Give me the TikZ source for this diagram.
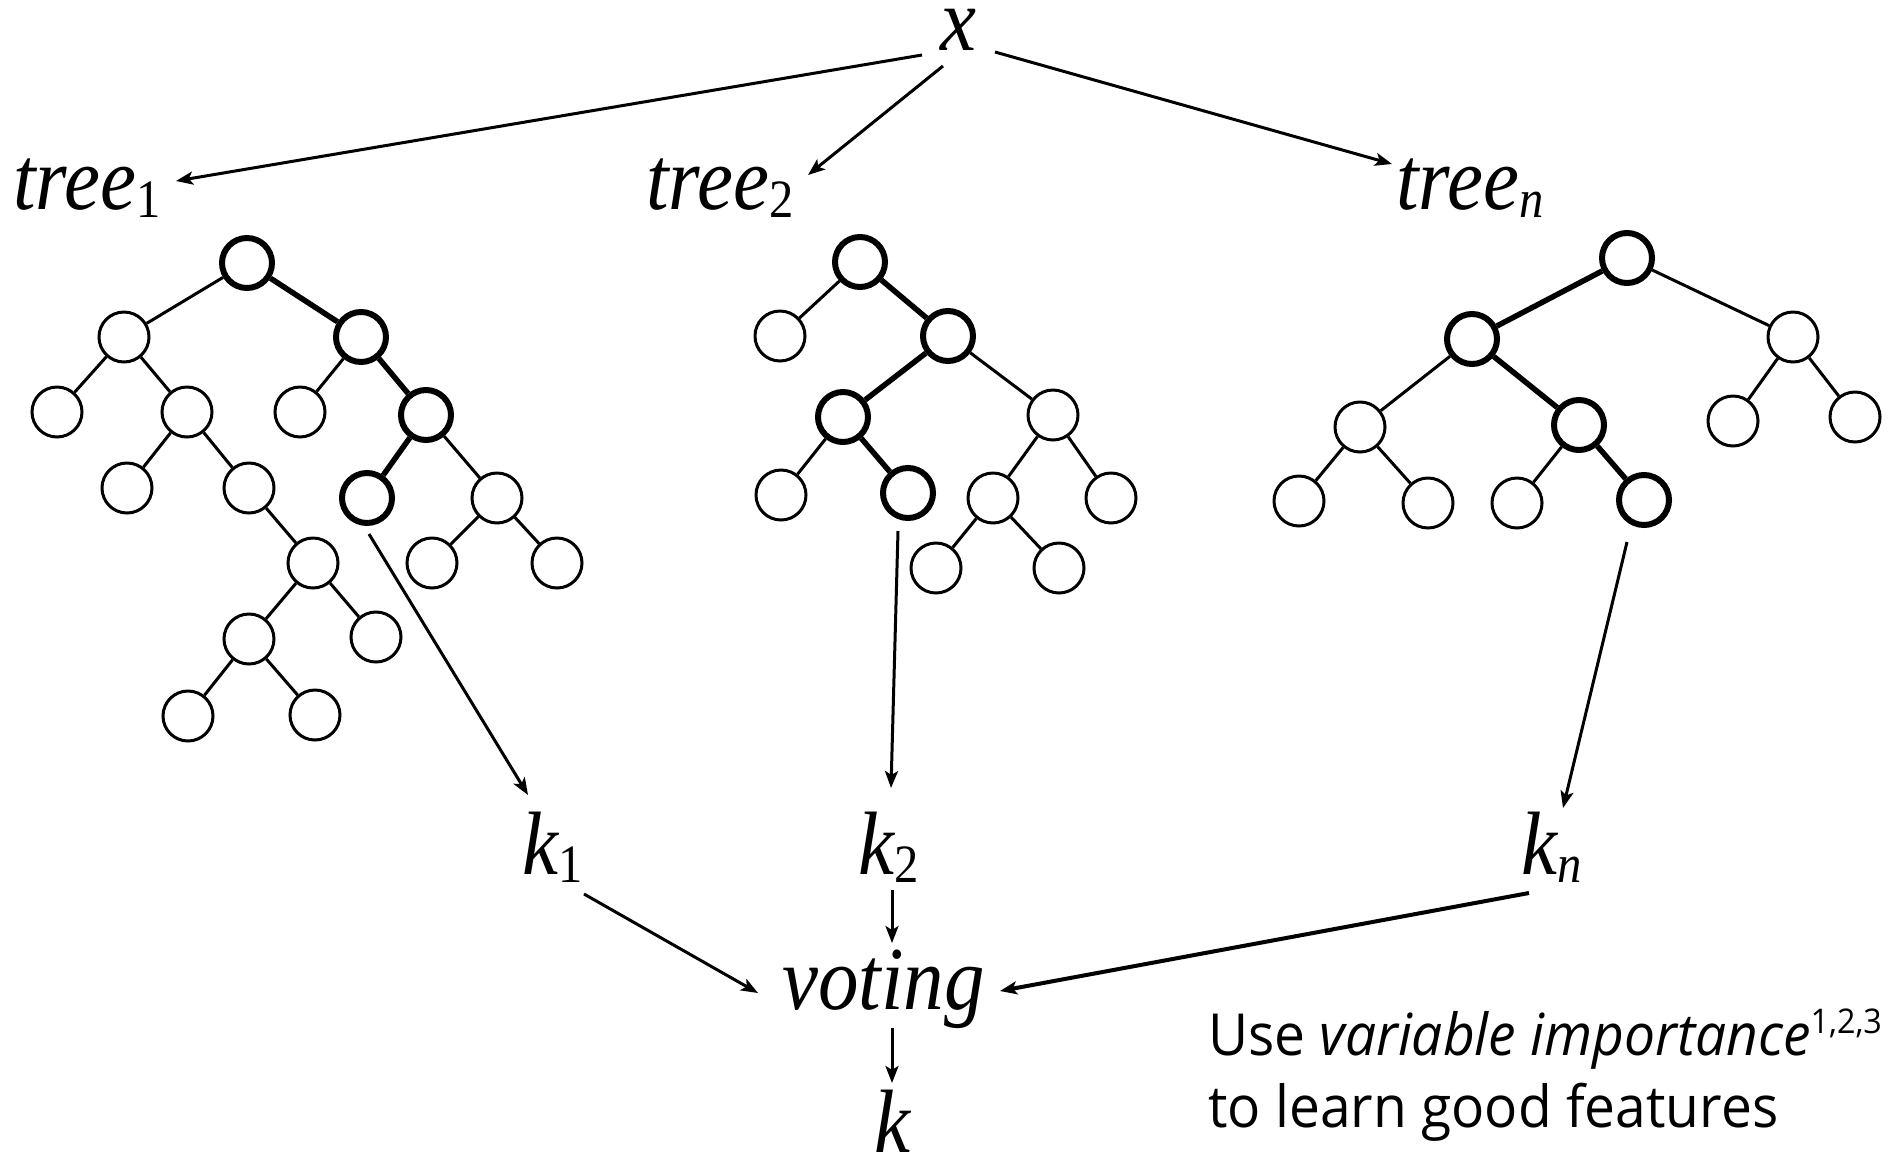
\documentclass[tikz,border=0pt]{standalone}
\usepackage{fontspec}
\usetikzlibrary{arrows.meta}
\newfontfamily\labfont[FakeStretch=0.9]{Liberation Serif}
\newfontfamily\notefont[FakeStretch=0.95]{Open Sans}
\newcommand{\idx}[1]{\raisebox{-8pt}{\fontsize{54}{54}\selectfont #1}}
\tikzset{
  leaf/.style={circle,draw=black,line width=3pt,minimum size=50pt,inner sep=0pt},
  leafhot/.style={leaf,line width=6pt},
  edge/.style={line width=3pt},
  edgehot/.style={line width=5.5pt},
  flow/.style={-{Stealth[length=17pt,width=13pt,inset=4pt]},line width=3pt},
  flowbold/.style={flow,line width=4pt},
  lab/.style={inner sep=0pt,anchor=base west,font=\labfont\itshape\fontsize{90}{90}\selectfont},
  note/.style={inner sep=0pt,anchor=base west,font=\notefont\fontsize{58}{70}\selectfont},
}

\begin{document}
\begin{tikzpicture}[x=1pt,y=-1pt]
    \useasboundingbox (0,0) rectangle (1898,1160);
    % labels: input, trees, per-tree classes, vote
    \node[lab,anchor=base] (x) at (958,50) {x};
    \node[lab] (tree1) at (13,209) {tree\idx{\upshape 1}};
    \node[lab] (tree2) at (646,209) {tree\idx{\upshape 2}};
    \node[lab] (treen) at (1396,209) {tree\idx{n}};
    \node[lab] (k1) at (522,874) {k\idx{\upshape 1}};
    \node[lab] (k2) at (858,874) {k\idx{\upshape 2}};
    \node[lab] (kn) at (1521,874) {k\idx{n}};
    \node[lab] (voting) at (782,1009) {voting};
    \node[lab] (k) at (874,1152) {k};

    % tree 1
    \node[leafhot] (t1) at (247,263) {};
    \node[leaf] (t1l) at (124,337) {};
    \node[leafhot] (t1r) at (361,337) {};
    \node[leaf] (t1ll) at (57,412) {};
    \node[leaf] (t1lr) at (187,412) {};
    \node[leaf] (t1rl) at (300,412) {};
    \node[leafhot] (t1rr) at (426,415) {};
    \node[leaf] (t1lrl) at (127,488) {};
    \node[leaf] (t1lrr) at (249,488) {};
    \node[leafhot] (t1rrl) at (367,498) {};
    \node[leaf] (t1rrr) at (497,498) {};
    \node[leaf] (t1lrrr) at (313,563) {};
    \node[leaf] (t1rrrl) at (432,563) {};
    \node[leaf] (t1rrrr) at (557,563) {};
    \node[leaf] (t1lrrrl) at (249,639) {};
    \node[leaf] (t1lrrrr) at (376,637) {};
    \node[leaf] (t1lrrrll) at (188,716) {};
    \node[leaf] (t1lrrrlr) at (315,715) {};
    \draw[edge] (t1)--(t1l) (t1l)--(t1ll) (t1l)--(t1lr) (t1r)--(t1rl)
      (t1lr)--(t1lrl) (t1lr)--(t1lrr) (t1rr)--(t1rrr) (t1lrr)--(t1lrrr)
      (t1rrr)--(t1rrrl) (t1rrr)--(t1rrrr) (t1lrrr)--(t1lrrrl) (t1lrrr)--(t1lrrrr)
      (t1lrrrl)--(t1lrrrll) (t1lrrrl)--(t1lrrrlr);
    \draw[edgehot] (t1)--(t1r) (t1r)--(t1rr) (t1rr)--(t1rrl);

    % tree 2
    \node[leafhot] (t2) at (860,262) {};
    \node[leaf] (t2l) at (780,336) {};
    \node[leafhot] (t2r) at (948,336) {};
    \node[leafhot] (t2rl) at (843,417) {};
    \node[leaf] (t2rr) at (1053,415) {};
    \node[leaf] (t2rll) at (781,495) {};
    \node[leafhot] (t2rlr) at (908,493) {};
    \node[leaf] (t2rrl) at (993,498) {};
    \node[leaf] (t2rrr) at (1111,498) {};
    \node[leaf] (t2rrll) at (936,568) {};
    \node[leaf] (t2rrlr) at (1059,568) {};
    \draw[edge] (t2)--(t2l) (t2r)--(t2rr) (t2rl)--(t2rll) (t2rr)--(t2rrl)
      (t2rr)--(t2rrr) (t2rrl)--(t2rrll) (t2rrl)--(t2rrlr);
    \draw[edgehot] (t2)--(t2r) (t2r)--(t2rl) (t2rl)--(t2rlr);

    % tree n
    \node[leafhot] (tn) at (1627,258) {};
    \node[leafhot] (tnl) at (1472,339) {};
    \node[leaf] (tnr) at (1793,337) {};
    \node[leaf] (tnll) at (1360,427) {};
    \node[leafhot] (tnlr) at (1579,425) {};
    \node[leaf] (tnrl) at (1733,421) {};
    \node[leaf] (tnrr) at (1855,417) {};
    \node[leaf] (tnlll) at (1299,501) {};
    \node[leaf] (tnllr) at (1428,503) {};
    \node[leaf] (tnlrl) at (1517,503) {};
    \node[leafhot] (tnlrr) at (1644,500) {};
    \draw[edge] (tn)--(tnr) (tnl)--(tnll) (tnr)--(tnrl) (tnr)--(tnrr)
      (tnll)--(tnlll) (tnll)--(tnllr) (tnlr)--(tnlrl);
    \draw[edgehot] (tn)--(tnl) (tnl)--(tnlr) (tnlr)--(tnlrr);

    % x to the trees
    \draw[flow] ([shift={(-36,5)}]x.base) -- ([shift={(163,-28)}]tree1.base west);
    \draw[flow] ([shift={(-15,16)}]x.base) -- ([shift={(162,-34)}]tree2.base west);
    \draw[flow] ([shift={(37,2)}]x.base) -- ([shift={(-4,-45)}]treen.base west);

    % reached leaves to classes
    \draw[flow] ([shift={(2,36)}]t1rrl.center) -- ([shift={(6,-79)}]k1.base west);
    \draw[flow] ([shift={(-10,38)}]t2rlr.center) -- ([shift={(33,-86)}]k2.base west);
    \draw[flow] ([shift={(-17,42)}]tnlrr.center) -- ([shift={(42,-66)}]kn.base west);

    % vote
    \draw[flow] ([shift={(62,20)}]k1.base west) -- ([shift={(-24,-16)}]voting.base west);
    \draw[flow] ([shift={(34,16)}]k2.base west) -- ([shift={(110,-66)}]voting.base west);
    \draw[flowbold] ([shift={(8,19)}]kn.base west) -- ([shift={(218,-18)}]voting.base west);
    \draw[flow] ([shift={(110,19)}]voting.base west) -- ([shift={(18,-69)}]k.base west);

    \node[note] (note1) at (1208,1055)
      {Use \textit{variable importance}\raisebox{22pt}{\fontsize{34}{34}\selectfont 1,2,3}};
    \node[note] (note2) at (1208,1127) {to learn good features};
  \end{tikzpicture}
\end{document}
